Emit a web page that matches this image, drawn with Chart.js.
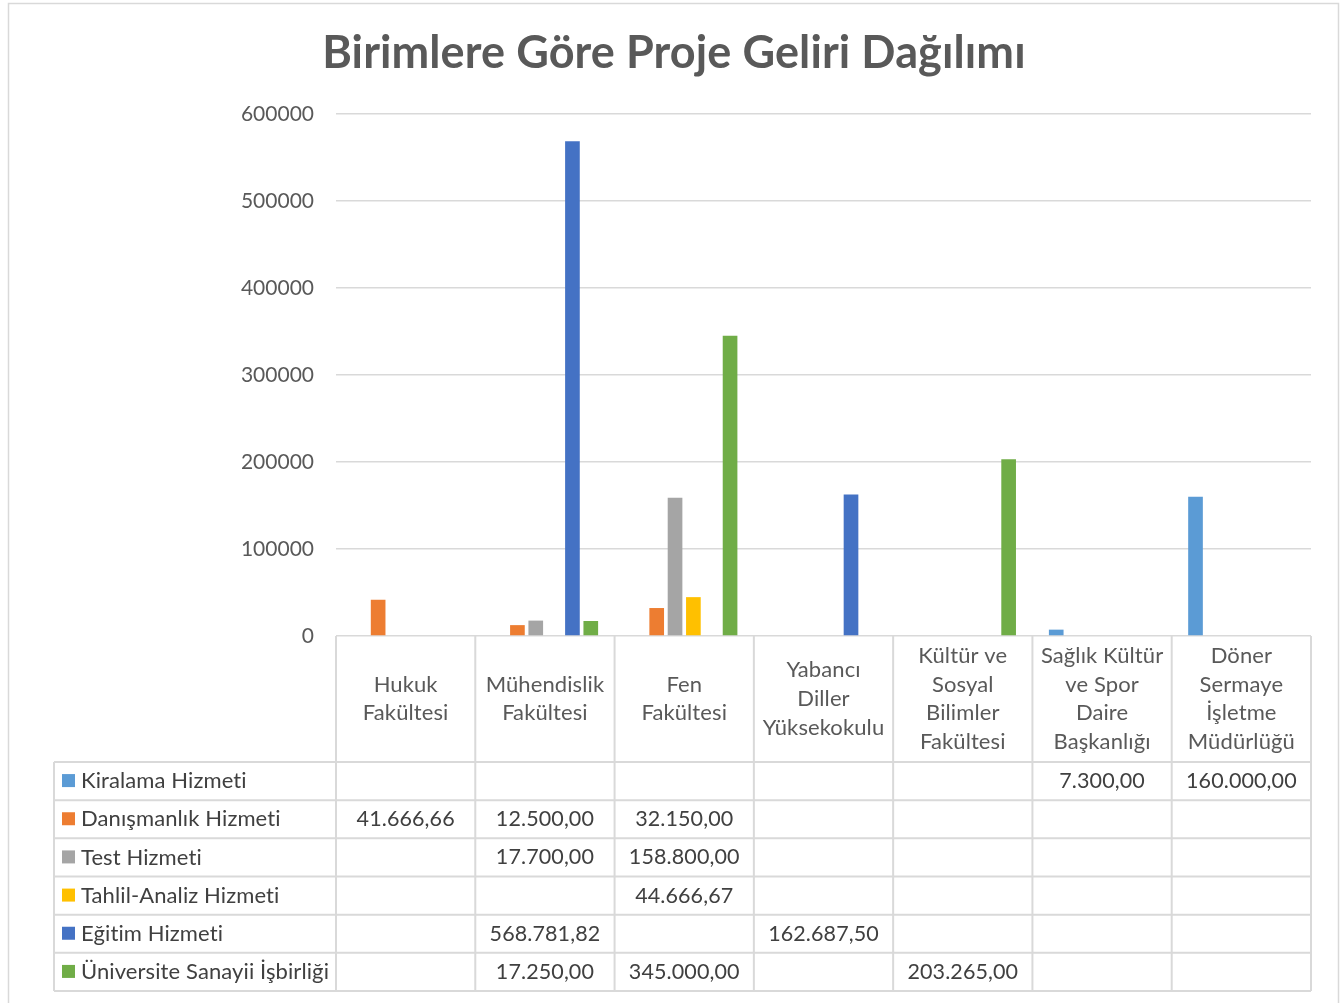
<!DOCTYPE html>
<html>
<head>
<meta charset="utf-8">
<script src="https://cdn.jsdelivr.net/npm/chart.js@4.4.1/dist/chart.umd.min.js"></script>
<style>
  html, body { margin: 0; padding: 0; background: #fff; }
  #wrap { width: 1344px; height: 1003px; }
</style>
</head>
<body>
<div id="wrap"><canvas id="chart" width="1344" height="1003"></canvas></div>
<script>
const chartTitle = 'Birimlere Göre Proje Geliri Dağılımı';

const categories = [
    ['Hukuk', 'Fakültesi'],
    ['Mühendislik', 'Fakültesi'],
    ['Fen', 'Fakültesi'],
    ['Yabancı', 'Diller', 'Yüksekokulu'],
    ['Kültür ve', 'Sosyal', 'Bilimler', 'Fakültesi'],
    ['Sağlık Kültür', 've Spor', 'Daire', 'Başkanlığı'],
    ['Döner', 'Sermaye', 'İşletme', 'Müdürlüğü']
];

const seriesNames = ['Kiralama Hizmeti', 'Danışmanlık Hizmeti', 'Test Hizmeti',
    'Tahlil-Analiz Hizmeti', 'Eğitim Hizmeti', 'Üniversite Sanayii İşbirliği'];
const seriesColors = ['#5B9BD5', '#ED7D31', '#A5A5A5', '#FFC000', '#4472C4', '#70AD47'];

const kiralama    = [null, null, null, null, null, 7300, 160000];
const danismanlik = [41666.66, 12500, 32150, null, null, null, null];
const test        = [null, 17700, 158800, null, null, null, null];
const tahlil      = [null, null, 44666.67, null, null, null, null];
const egitim      = [null, 568781.82, null, 162687.5, null, null, null];
const usi         = [null, 17250, 345000, null, 203265, null, null];

const yTicks = [0, 100000, 200000, 300000, 400000, 500000, 600000];

const allSeries = [kiralama, danismanlik, test, tahlil, egitim, usi];

// 41666.66 -> "41.666,66"
function formatTR(v) {
    const parts = v.toFixed(2).split('.');
    const intPart = parts[0].replace(/\B(?=(\d{3})+(?!\d))/g, '.');
    return intPart + ',' + parts[1];
}

const FONT = 'Lato, "Open Sans", sans-serif';
const GRID = '#d9d9d9';

const tablePlugin = {
    id: 'tablePlugin',
    beforeDraw(chart) {
        const ctx = chart.ctx;
        ctx.save();
        ctx.strokeStyle = GRID;
        ctx.lineWidth = 1.5;
        ctx.strokeRect(8.5, 3.5, 1330, 1020);
        ctx.restore();
    },
    afterDraw(chart) {
        const ctx = chart.ctx;
        const area = chart.chartArea;
        const n = categories.length;
        const catW = (area.right - area.left) / n;
        const headerBottom = 762;
        const rowH = (991 - headerBottom) / allSeries.length;
        const legendLeft = 54;

        ctx.save();
        ctx.letterSpacing = '0.1px'; // keeps Lato from joining "ti"
        // title
        ctx.fillStyle = '#595959';
        ctx.font = 'bold 45px ' + FONT;
        ctx.textAlign = 'center';
        ctx.textBaseline = 'middle';
        ctx.fillText(chartTitle, 674, 53);

        // grid of table
        ctx.strokeStyle = GRID;
        ctx.lineWidth = 2;
        ctx.beginPath();
        for (let i = 0; i <= n; i++) {
            const x = area.left + i * catW;
            ctx.moveTo(x, area.bottom);
            ctx.lineTo(x, 991);
        }
        ctx.moveTo(legendLeft, headerBottom);
        ctx.lineTo(legendLeft, 991);
        for (let r = 0; r <= allSeries.length; r++) {
            const y = headerBottom + r * rowH;
            ctx.moveTo(legendLeft, y);
            ctx.lineTo(area.right, y);
        }
        ctx.stroke();

        // header labels
        ctx.fillStyle = '#595959';
        ctx.font = '22px ' + FONT;
        ctx.textAlign = 'center';
        ctx.textBaseline = 'middle';
        const lineH = 28.8;
        const headerMid = (area.bottom + headerBottom) / 2;
        categories.forEach((lines, i) => {
            const cx = area.left + (i + 0.5) * catW;
            const y0 = headerMid - (lines.length - 1) * lineH / 2;
            lines.forEach((t, k) => ctx.fillText(t, cx, y0 + k * lineH));
        });

        // rows
        allSeries.forEach((vals, r) => {
            const cy = headerBottom + (r + 0.5) * rowH;
            ctx.fillStyle = seriesColors[r];
            ctx.fillRect(62, cy - 7, 13, 13);
            ctx.fillStyle = '#404040';
            ctx.font = '22px ' + FONT;
            ctx.textAlign = 'left';
            ctx.fillText(seriesNames[r], 81, cy);
            ctx.font = '21.5px ' + FONT;
            ctx.textAlign = 'center';
            vals.forEach((v, i) => {
                if (v === null) return;
                ctx.fillText(formatTR(v), area.left + (i + 0.5) * catW, cy);
            });
        });
        ctx.restore();
    }
};

new Chart(document.getElementById('chart'), {
    type: 'bar',
    data: {
        labels: categories.map(c => c.join(' ')),
        datasets: allSeries.map((vals, i) => ({
            label: seriesNames[i],
            data: vals,
            backgroundColor: seriesColors[i],
            categoryPercentage: 0.79,
            barPercentage: 0.8
        }))
    },
    options: {
        responsive: false,
        animation: false,
        layout: { padding: { top: 114, bottom: 367, left: 0, right: 33 } },
        plugins: {
            legend: { display: false },
            title: { display: false },
            tooltip: { enabled: false }
        },
        scales: {
            x: { display: false },
            y: {
                min: 0,
                max: 600000,
                afterFit(scale) { scale.width = 336; },
                afterBuildTicks(scale) { scale.ticks = yTicks.map(v => ({ value: v })); },
                ticks: {
                    color: '#595959',
                    font: { family: FONT, size: 21 },
                    padding: 22,
                    callback: v => String(v)
                },
                grid: { color: GRID, lineWidth: 1.5, drawTicks: false },
                border: { display: false }
            }
        }
    },
    plugins: [tablePlugin]
});
</script>
</body>
</html>
